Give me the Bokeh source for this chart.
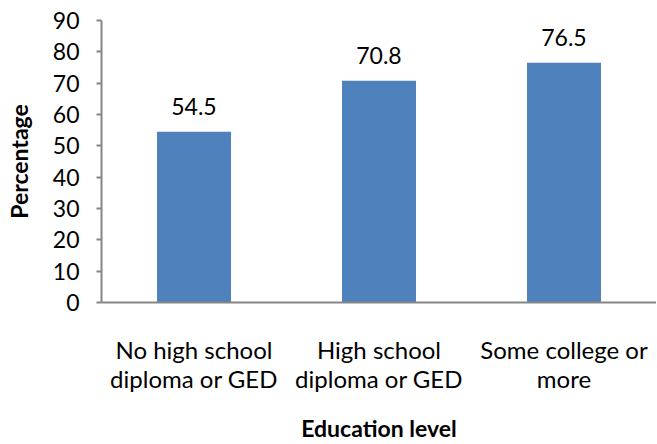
from bokeh.plotting import figure
from bokeh.models import ColumnDataSource, FactorRange, Range1d, LabelSet, FixedTicker
from bokeh.core.properties import value
from bokeh.embed import file_html
from bokeh.resources import INLINE

categories = ["No high school\ndiploma or GED", "High school\ndiploma or GED", "Some college or\nmore"]
values = [54.5, 70.8, 76.5]
value_labels = ["54.5", "70.8", "76.5"]
y_ticks = [0, 10, 20, 30, 40, 50, 60, 70, 80, 90]

FONT = "Lato"
AXIS_COLOR = "#868686"
BAR_COLOR = "#4F81BD"
TICK_SIZE = "23px"
XLAB_SIZE = "24px"
TITLE_SIZE = "23px"

src = ColumnDataSource(dict(cat=categories, val=values, lab=value_labels))

p = figure(width=656, height=444, x_range=FactorRange(*categories), y_range=Range1d(0, 90),
           output_backend="svg", toolbar_location=None,
           min_border_left=101, min_border_top=20, min_border_right=0, min_border_bottom=140)
p.outline_line_color = None
p.xgrid.grid_line_color = None
p.ygrid.grid_line_color = None
p.x_range.range_padding = 0

p.vbar(x="cat", top="val", width=0.4, source=src, color=BAR_COLOR, line_color=None)

labels = LabelSet(x="cat", y="val", text="lab", source=src, text_align="center",
                  text_baseline="alphabetic", y_offset=17,
                  text_font=value(FONT), text_font_size=value(TICK_SIZE), text_color="black")
p.add_layout(labels)

# y axis
p.yaxis.ticker = FixedTicker(ticks=y_ticks)
p.yaxis.minor_tick_line_color = None
p.yaxis.major_tick_in = 0
p.yaxis.major_tick_out = 5
p.yaxis.axis_line_color = AXIS_COLOR
p.yaxis.axis_line_width = 2
p.yaxis.major_tick_line_color = AXIS_COLOR
p.yaxis.major_tick_line_width = 2
p.yaxis.major_label_text_font = FONT
p.yaxis.major_label_text_font_size = TICK_SIZE
p.yaxis.major_label_text_color = "black"
p.yaxis.major_label_standoff = 17
p.yaxis.axis_label = "Percentage"
p.yaxis.axis_label_text_font = FONT
p.yaxis.axis_label_text_font_style = "bold"
p.yaxis.axis_label_text_font_size = TITLE_SIZE
p.yaxis.axis_label_text_color = "black"
p.yaxis.axis_label_standoff = 17

# x axis
p.xaxis.axis_line_color = AXIS_COLOR
p.xaxis.axis_line_width = 2
p.xaxis.major_tick_line_color = None
p.xaxis.major_tick_in = 0
p.xaxis.major_tick_out = 0
p.xaxis.minor_tick_line_color = None
p.xaxis.major_label_text_font = FONT
p.xaxis.major_label_text_font_size = XLAB_SIZE
p.xaxis.major_label_text_color = "black"
p.xaxis.major_label_text_line_height = 1.0
p.xaxis.major_label_standoff = 32
p.xaxis.axis_label = "Education level"
p.xaxis.axis_label_text_font = FONT
p.xaxis.axis_label_text_font_style = "bold"
p.xaxis.axis_label_text_font_size = TITLE_SIZE
p.xaxis.axis_label_text_color = "black"
p.xaxis.axis_label_standoff = 18

open("out.html", "w").write(file_html(p, INLINE))
